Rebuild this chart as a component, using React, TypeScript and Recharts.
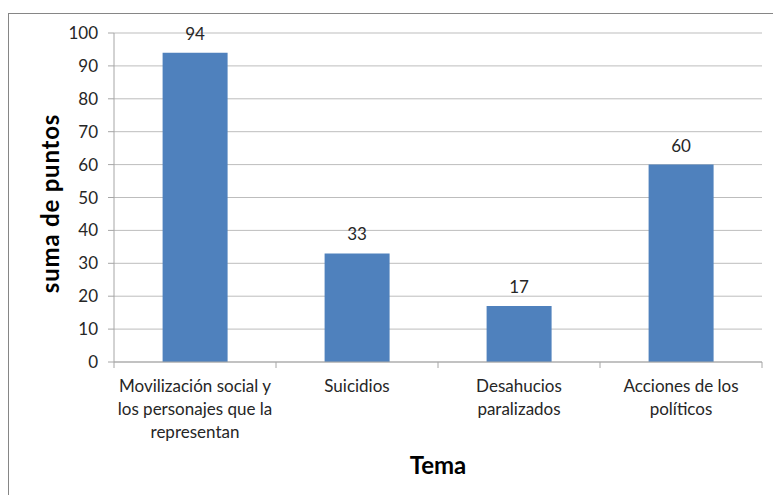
import React from "react";
import { BarChart, Bar, XAxis, YAxis, CartesianGrid, LabelList, Label } from "recharts";

const temas = [
  "Movilización social y\nlos personajes que la\nrepresentan",
  "Suicidios",
  "Desahucios\nparalizados",
  "Acciones de los\npolíticos",
];
const puntos = [94, 33, 17, 60];
const yTicks = [0, 10, 20, 30, 40, 50, 60, 70, 80, 90, 100];

const data = temas.map((tema, i) => ({ tema, puntos: puntos[i] }));

const W = 773;
const H = 495;
const margin = { top: 33, right: 11, left: 0, bottom: 0 };
const Y_AXIS_W = 114;
const X_AXIS_H = 133;
const band = (W - margin.left - margin.right - Y_AXIS_W) / temas.length;

const font = "Lato, 'Liberation Sans', sans-serif";
const textColor = "#262626";
const axisColor = "#a6a6a6";

function CategoryTick(props: any) {
  const { x, y, payload, index } = props;
  const lines = String(payload.value).split("\n");
  return (
    <g>
      <line x1={x - band / 2} x2={x - band / 2} y1={y} y2={y + 6} stroke={axisColor} />
      {index === temas.length - 1 && (
        <line x1={x + band / 2} x2={x + band / 2} y1={y} y2={y + 6} stroke={axisColor} />
      )}
      {lines.map((ln, i) => (
        <text key={i} x={x} y={y + 30 + i * 23} textAnchor="middle" fontSize={17} fill={textColor} fontFamily={font}>
          {ln}
        </text>
      ))}
    </g>
  );
}

export default function App() {
  return (
    <div style={{ position: "fixed", left: 0, top: 0, width: W, height: H, overflow: "hidden", background: "#fff" }}>
      {/* chart frame, runs off the right and bottom edges */}
      <div
        style={{
          position: "absolute",
          left: 8,
          top: 13,
          width: 820,
          height: 540,
          borderTop: "1px solid #868686",
          borderLeft: "1px solid #868686",
        }}
      />
      <div style={{ position: "absolute", left: 0, top: 0 }}>
        <BarChart width={W} height={H} data={data} margin={margin} barCategoryGap="30%" style={{ fontFamily: font }}>
          <CartesianGrid vertical={false} stroke="#bdbdbd" />
          <XAxis
            dataKey="tema"
            interval={0}
            height={X_AXIS_H}
            stroke={axisColor}
            tickLine={false}
            tickSize={0}
            tickMargin={0}
            tick={<CategoryTick />}
          >
            <Label
              content={(p: any) => {
                const vb = p.viewBox;
                return (
                  <text x={vb.x + vb.width / 2} y={vb.y + 112} textAnchor="middle" fontSize={24} fontWeight="bold" fill="#000" fontFamily={font}>
                    Tema
                  </text>
                );
              }}
            />
          </XAxis>
          <YAxis
            width={Y_AXIS_W}
            domain={[0, 100]}
            ticks={yTicks}
            interval={0}
            stroke={axisColor}
            tickSize={6}
            tickMargin={10}
            tick={{ fontSize: 17, fill: textColor, fontFamily: font }}
          >
            <Label
              content={(p: any) => {
                const vb = p.viewBox;
                const cx = vb.x + 59;
                const cy = vb.y + vb.height / 2 + 6;
                return (
                  <text x={cx} y={cy} transform={`rotate(-90 ${cx} ${cy})`} textAnchor="middle" fontSize={24} letterSpacing={0.8} fontWeight="bold" fill="#000" fontFamily={font}>
                    suma de puntos
                  </text>
                );
              }}
            />
          </YAxis>
          <Bar dataKey="puntos" fill="#4f81bd" isAnimationActive={false}>
            <LabelList dataKey="puntos" position="top" offset={13} fontSize={17} fill={textColor} fontFamily={font} />
          </Bar>
        </BarChart>
      </div>
    </div>
  );
}
